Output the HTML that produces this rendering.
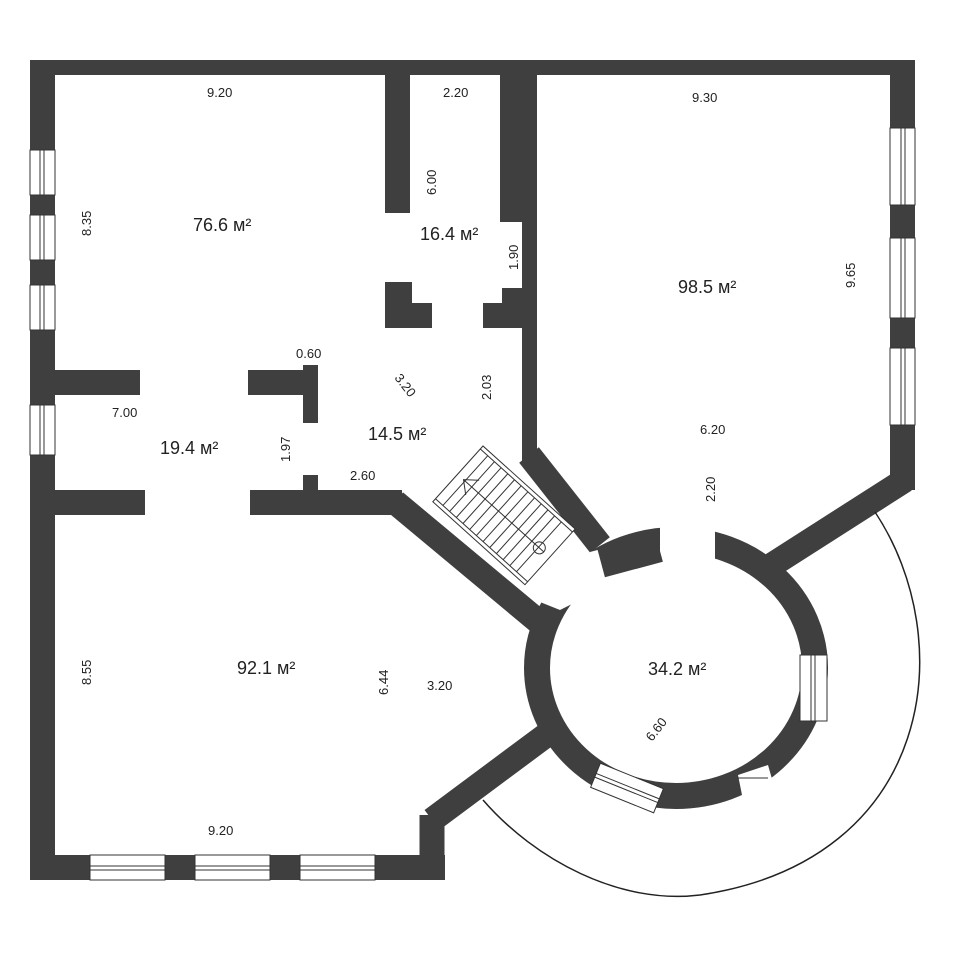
<!DOCTYPE html>
<html><head><meta charset="utf-8"><style>
html,body{margin:0;padding:0;background:#fff;}
svg{display:block}
text{font-family:"Liberation Sans",sans-serif;fill:#222;}
</style></head><body>
<svg width="960" height="960" viewBox="0 0 960 960" xmlns="http://www.w3.org/2000/svg">
<rect width="960" height="960" fill="#fff"/>
<g fill="#3f3f3f" stroke="none">
<rect x="30" y="60" width="885" height="15"/>
<rect x="30" y="60" width="25" height="820"/>
<rect x="30" y="855" width="415" height="25"/>
<rect x="890" y="60" width="25" height="430"/>
<rect x="385" y="75" width="25" height="138"/>
<rect x="385" y="282" width="27" height="46"/>
<rect x="412" y="303" width="20" height="25"/>
<rect x="500" y="75" width="37" height="147"/>
<rect x="522" y="222" width="15" height="240"/>
<rect x="483" y="303" width="54" height="25"/>
<rect x="502" y="288" width="35" height="20"/>
<rect x="55" y="370" width="85" height="25"/>
<rect x="248" y="370" width="70" height="25"/>
<rect x="303" y="365" width="15" height="58"/>
<rect x="303" y="475" width="15" height="20"/>
<rect x="55" y="490" width="90" height="25"/>
<rect x="250" y="490" width="152" height="25"/>
</g>
<g stroke="#3f3f3f" stroke-width="25" fill="none" stroke-linecap="butt">
<line x1="395" y1="502" x2="545" y2="627"/>
<line x1="529" y1="455" x2="600" y2="545"/>
<line x1="905" y1="480" x2="772" y2="565"/>
<line x1="553" y1="730" x2="432" y2="820"/>
<line x1="432" y1="815" x2="432" y2="880"/>
</g>
<ellipse cx="676" cy="668" rx="139" ry="128" fill="none" stroke="#3f3f3f" stroke-width="26"/>
<polygon points="660,520 715,520 715,560 660,560" fill="#fff"/>
<polygon points="560,560 605,548 650,565 560,610 535,600" fill="#fff"/>
<rect x="600" y="540" width="60" height="30" fill="#3f3f3f" transform="rotate(-15 630 555)"/>
<polygon points="738,775 768,765 778,800 745,810" fill="#fff"/>
<line x1="737" y1="778" x2="768" y2="778" stroke="#333" stroke-width="1"/>
<rect x="800" y="655" width="27" height="66" fill="#fff" stroke="#333" stroke-width="1"/>
<line x1="811" y1="655" x2="811" y2="721" stroke="#333"/><line x1="815" y1="655" x2="815" y2="721" stroke="#333"/>
<g transform="rotate(22 627 788)">
<rect x="593" y="775" width="68" height="26" fill="#fff" stroke="#333" stroke-width="1"/>
<line x1="593" y1="786" x2="661" y2="786" stroke="#333"/><line x1="593" y1="790" x2="661" y2="790" stroke="#333"/>
</g>
<path d="M875,512 C960,640 935,860 700,895 C620,905 535,860 483,800" fill="none" stroke="#222" stroke-width="1.5"/>
<g fill="#fff" stroke="#333" stroke-width="1">
<rect x="30" y="150" width="25" height="45"/><rect x="30" y="215" width="25" height="45"/>
<rect x="30" y="285" width="25" height="45"/><rect x="30" y="405" width="25" height="50"/>
<rect x="890" y="128" width="25" height="77"/><rect x="890" y="238" width="25" height="80"/><rect x="890" y="348" width="25" height="77"/>
<rect x="90" y="855" width="75" height="25"/><rect x="195" y="855" width="75" height="25"/><rect x="300" y="855" width="75" height="25"/>
</g>
<g stroke="#333" stroke-width="1">
<line x1="40" y1="150" x2="40" y2="195"/><line x1="44" y1="150" x2="44" y2="195"/>
<line x1="40" y1="215" x2="40" y2="260"/><line x1="44" y1="215" x2="44" y2="260"/>
<line x1="40" y1="285" x2="40" y2="330"/><line x1="44" y1="285" x2="44" y2="330"/>
<line x1="40" y1="405" x2="40" y2="455"/><line x1="44" y1="405" x2="44" y2="455"/>
<line x1="901" y1="128" x2="901" y2="205"/><line x1="905" y1="128" x2="905" y2="205"/>
<line x1="901" y1="238" x2="901" y2="318"/><line x1="905" y1="238" x2="905" y2="318"/>
<line x1="901" y1="348" x2="901" y2="425"/><line x1="905" y1="348" x2="905" y2="425"/>
<line x1="90" y1="866" x2="165" y2="866"/><line x1="90" y1="870" x2="165" y2="870"/>
<line x1="195" y1="866" x2="270" y2="866"/><line x1="195" y1="870" x2="270" y2="870"/>
<line x1="300" y1="866" x2="375" y2="866"/><line x1="300" y1="870" x2="375" y2="870"/>
</g>
<g transform="translate(483,446) rotate(42)">
<rect x="0" y="0" width="124" height="75" fill="#fff" stroke="#333" stroke-width="1"/>
<line x1="0" y1="4" x2="124" y2="4" stroke="#333"/>
<line x1="0" y1="71" x2="124" y2="71" stroke="#333"/>
<g stroke="#333" stroke-width="1">
<line x1="10" y1="4" x2="10" y2="71"/><line x1="19" y1="4" x2="19" y2="71"/><line x1="28" y1="4" x2="28" y2="71"/>
<line x1="37" y1="4" x2="37" y2="71"/><line x1="46" y1="4" x2="46" y2="71"/><line x1="55" y1="4" x2="55" y2="71"/>
<line x1="64" y1="4" x2="64" y2="71"/><line x1="73" y1="4" x2="73" y2="71"/><line x1="82" y1="4" x2="82" y2="71"/>
<line x1="91" y1="4" x2="91" y2="71"/><line x1="100" y1="4" x2="100" y2="71"/><line x1="109" y1="4" x2="109" y2="71"/>
<line x1="8" y1="38" x2="116" y2="38"/>
</g>
<circle cx="110" cy="38" r="6" fill="none" stroke="#333"/>
<polyline points="20,28 8,38 20,48" fill="none" stroke="#333"/>
</g>
<g font-size="13">
<text x="207" y="97">9.20</text>
<text x="443" y="97">2.20</text>
<text x="692" y="102">9.30</text>
<text x="208" y="835">9.20</text>
<text x="112" y="417">7.00</text>
<text x="296" y="358">0.60</text>
<text x="350" y="480">2.60</text>
<text x="700" y="434">6.20</text>
<text x="427" y="690">3.20</text>
<text transform="translate(91,236) rotate(-90)">8.35</text>
<text transform="translate(91,685) rotate(-90)">8.55</text>
<text transform="translate(436,195) rotate(-90)">6.00</text>
<text transform="translate(518,270) rotate(-90)">1.90</text>
<text transform="translate(491,400) rotate(-90)">2.03</text>
<text transform="translate(290,462) rotate(-90)">1.97</text>
<text transform="translate(855,288) rotate(-90)">9.65</text>
<text transform="translate(715,502) rotate(-90)">2.20</text>
<text transform="translate(388,695) rotate(-90)">6.44</text>
<text transform="translate(394,378) rotate(52)">3.20</text>
<text transform="translate(652,742) rotate(-52)">6.60</text>
</g>
<g font-size="18">
<text x="193" y="231">76.6 м²</text>
<text x="420" y="240">16.4 м²</text>
<text x="678" y="293">98.5 м²</text>
<text x="160" y="454">19.4 м²</text>
<text x="368" y="440">14.5 м²</text>
<text x="237" y="674">92.1 м²</text>
<text x="648" y="675">34.2 м²</text>
</g>
</svg>
</body></html>
